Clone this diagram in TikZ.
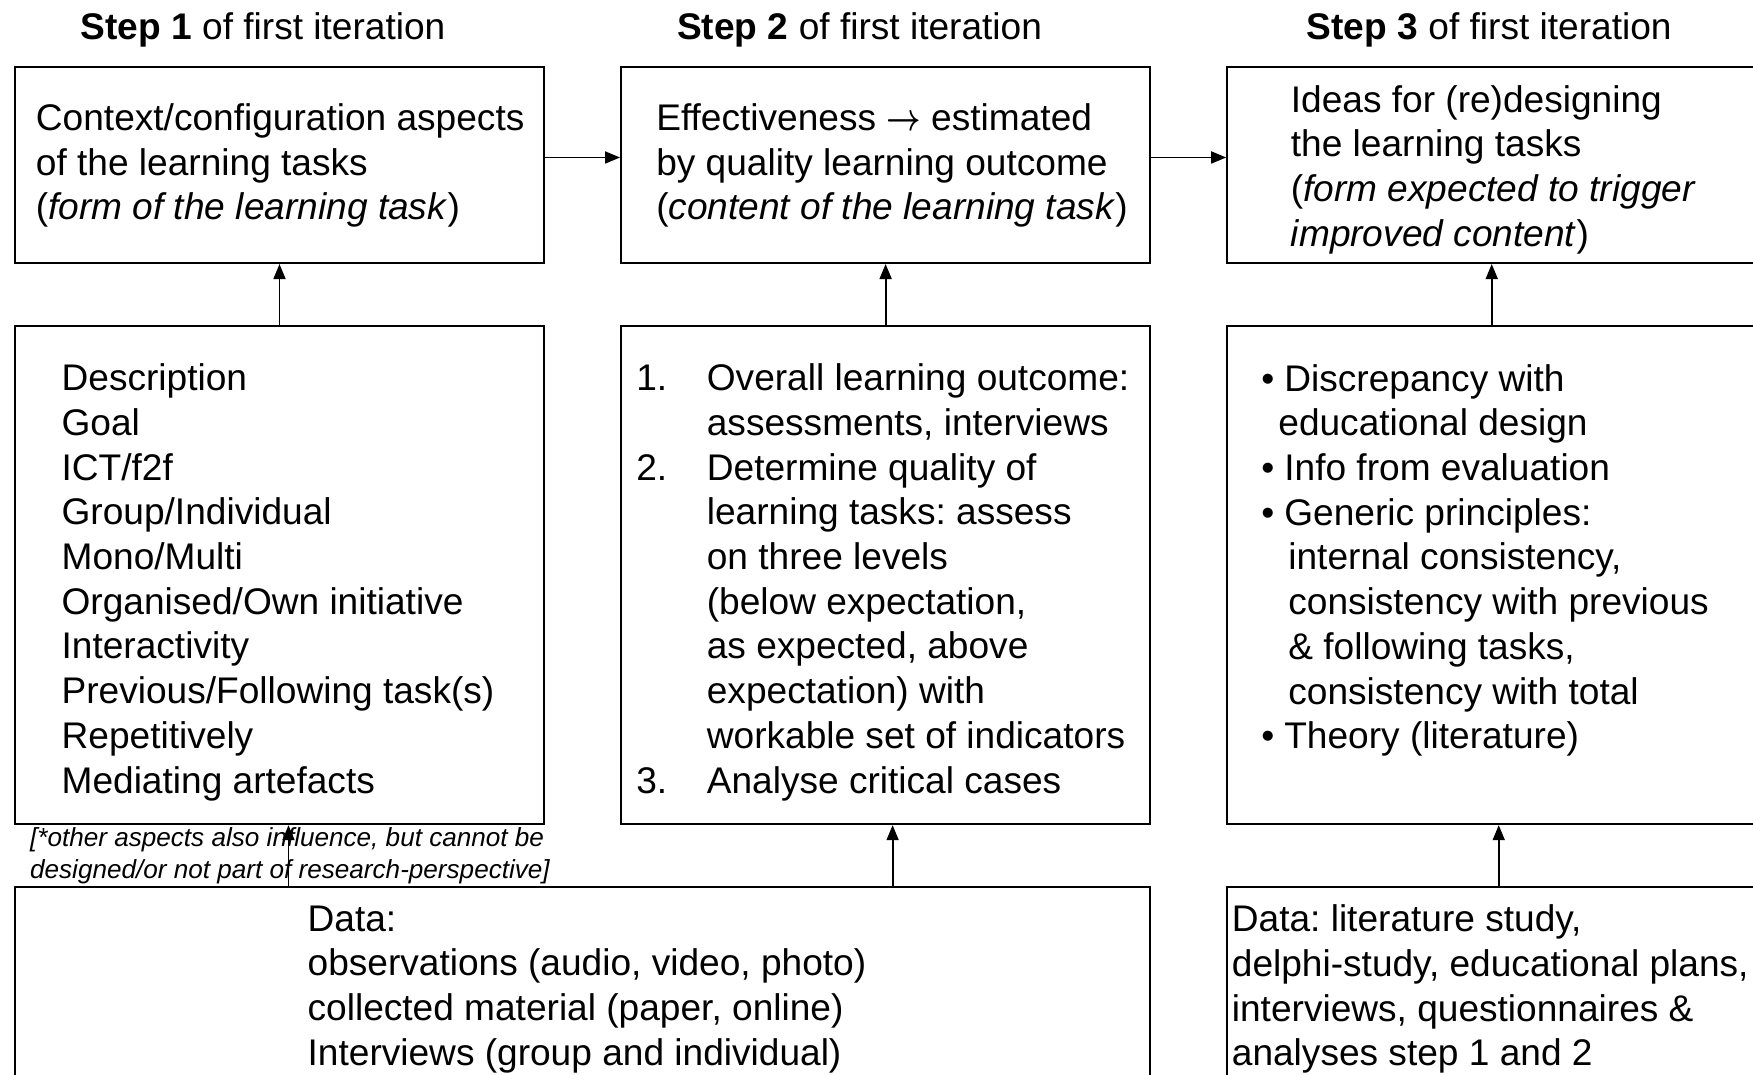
\documentclass[tikz,border=0pt]{standalone}
\usepackage{fontspec}
\usepackage{amsmath}
\setmainfont{Liberation Sans}
\usetikzlibrary{arrows.meta, positioning}

\newcommand{\numline}[1]{\makebox[0.706cm][l]{#1}}
\newcommand{\indline}{\hspace*{0.706cm}}
\newcommand{\bul}{•\hspace{0.1cm}}
\newcommand{\thenarrow}{\scalebox{0.78}[1.0]{$\boldsymbol{\rightarrow}$}}
\frenchspacing

\begin{document}
\begin{tikzpicture}[node distance=0.61cm and 0.75cm,
                    box/.style={draw, line width=0.6pt, inner sep=0pt},
                    top box/.style={box, minimum width=5.29cm, minimum height=1.96cm},
                    mid box/.style={box, minimum width=5.29cm, minimum height=4.98cm},
                    txt/.style={anchor=west, align=left, inner sep=0pt,
                      font=\fontsize{10.55}{12.72}\selectfont},
                    title/.style={inner sep=0pt, font=\fontsize{10.55}{12.72}\selectfont},
                    link/.style={-{Triangle[length=1.5mm, width=1.2mm]}, line width=0.5pt}]

  \useasboundingbox (0,0) rectangle (17.53,-10.75);
  \clip (0,0) rectangle (17.53,-10.75);

  % top row
  \node[top box] (form) at (2.795,-1.65) {};
  \node[top box] (effect) [right=of form] {};
  \node[top box] (ideas) [right=of effect] {};

  \node[title] (step1) at ([xshift=-0.165cm, yshift=0.365cm]form.north) {\textbf{Step 1} of first iteration};
  \node[title] (step2) at ([xshift=-0.26cm, yshift=0.365cm]effect.north) {\textbf{Step 2} of first iteration};
  \node[title] (step3) at ([xshift=-0.025cm, yshift=0.365cm]ideas.north) {\textbf{Step 3} of first iteration};

  \node[txt] (form text) at ([xshift=0.213cm, yshift=-0.005cm]form.west)
    {Context/configuration aspects\\of the learning tasks\\(\textit{form of the learning task})};
  \node[txt] (effect text) at ([xshift=0.355cm, yshift=-0.005cm]effect.west)
    {Effectiveness \thenarrow{} estimated\\by quality learning outcome\\(\textit{content of the learning task})};
  \node[txt] (ideas text) at ([xshift=0.64cm, yshift=-0.045cm]ideas.west)
    {Ideas for (re)designing\\the learning tasks\\(\textit{form expected to trigger}\\\textit{improved content})};

  % middle row
  \node[mid box] (aspects) [below=of form] {};
  \node[mid box] (outcome) [below=of effect] {};
  \node[mid box] (redesign) [below=of ideas] {};

  \node[txt] (aspects text) at ([xshift=0.47cm, yshift=-0.072cm]aspects.west)
    {Description\\Goal\\ICT/f2f\\Group/Individual\\Mono/Multi\\Organised/Own initiative\\
     Interactivity\\Previous/Following task(s)\\Repetitively\\Mediating artefacts};
  \node[txt] (outcome text) at ([xshift=0.155cm, yshift=-0.072cm]outcome.west)
    {\numline{1.}Overall learning outcome:\\
     \indline assessments, interviews\\
     \numline{2.}Determine quality of\\
     \indline learning tasks: assess\\
     \indline on three levels\\
     \indline (below expectation,\\
     \indline as expected, above\\
     \indline expectation) with\\
     \indline workable set of indicators\\
     \numline{3.}Analyse critical cases};
  \node[txt] (redesign text) at ([xshift=0.345cm, yshift=0.148cm]redesign.west)
    {\bul Discrepancy with\\
     \hspace*{0.17cm}educational design\\
     \bul Info from evaluation\\
     \bul Generic principles:\\
     \hspace*{0.27cm}internal consistency,\\
     \hspace*{0.27cm}consistency with previous\\
     \hspace*{0.27cm}\& following tasks,\\
     \hspace*{0.27cm}consistency with total\\
     \bul Theory (literature)};

  \node[txt, font=\fontsize{7.43}{9.22}\selectfont\itshape] (note)
    at ([xshift=0.155cm, yshift=-0.305cm]aspects.south west)
    {[*other aspects also influence, but cannot be\\designed/or not part of research-perspective]};

  % bottom row
  \node[box, minimum width=11.35cm, minimum height=2.2cm, anchor=north west] (data)
    at ([yshift=-0.61cm]aspects.south west) {};
  \node[box, minimum width=5.29cm, minimum height=2.2cm] (datalit) [below=of redesign] {};

  \node[txt] (data text) at ([xshift=2.93cm, yshift=-1.03cm]data.north west)
    {Data:\\observations (audio, video, photo)\\collected material (paper, online)\\
     Interviews (group and individual)};
  \node[txt] (datalit text) at ([xshift=0.05cm, yshift=-1.03cm]datalit.north west)
    {Data: literature study,\\delphi-study, educational plans,\\interviews, questionnaires \&\\
     analyses step 1 and 2};

  \path[link]
    ([yshift=0.075cm]form.east) edge ([yshift=0.075cm]effect.west)
    ([yshift=0.075cm]effect.east) edge ([yshift=0.075cm]ideas.west)
    (aspects) edge (form)
    (outcome) edge (effect)
    (redesign) edge (ideas)
    ([xshift=0.09cm]aspects.south |- data.north) edge ([xshift=0.09cm]aspects.south)
    ([xshift=0.07cm]outcome.south |- data.north) edge ([xshift=0.07cm]outcome.south)
    ([xshift=0.07cm]datalit.north) edge ([xshift=0.07cm]redesign.south);
\end{tikzpicture}
\end{document}
